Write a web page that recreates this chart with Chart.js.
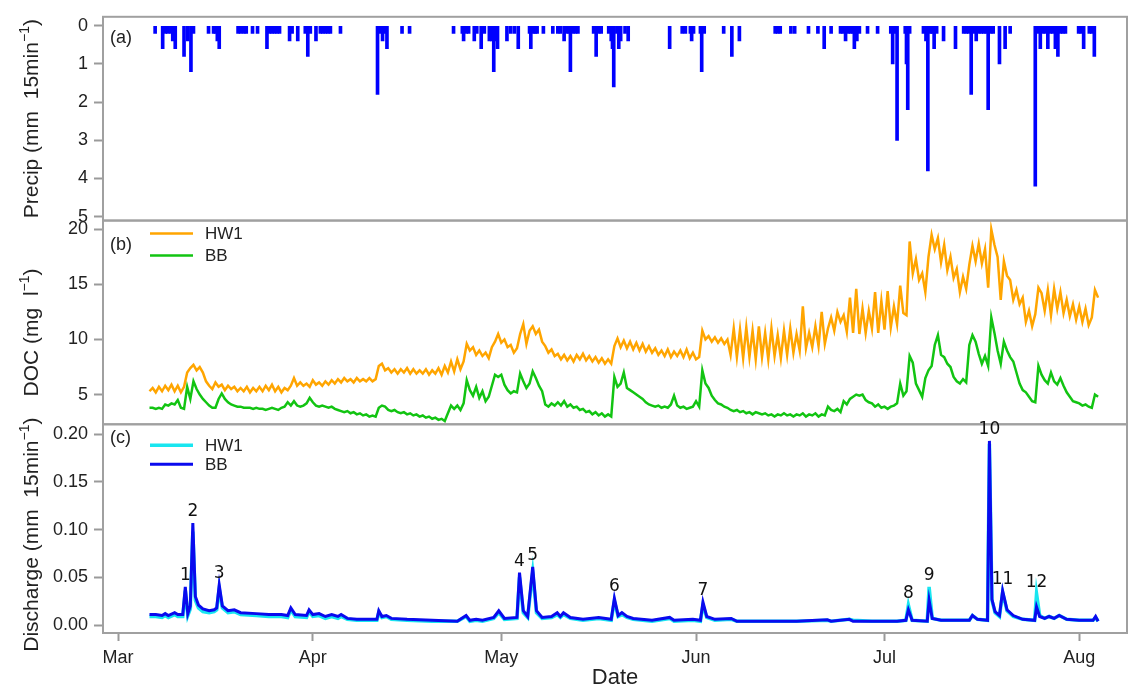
<!DOCTYPE html>
<html>
<head>
<meta charset="utf-8">
<script src="https://cdn.jsdelivr.net/npm/chart.js@4.4.1/dist/chart.umd.min.js"></script>
<style>
html, body { margin: 0; padding: 0; background: #fff; }
</style>
</head>
<body>
<canvas id="chartHydro" width="1129" height="689"></canvas>
<script>
// x is days since 1 March
var monthTicks = [0, 31, 61, 92, 122, 153];
var monthLabels = ['Mar', 'Apr', 'May', 'Jun', 'Jul', 'Aug'];
var precipTicks = [0, 1, 2, 3, 4, 5];
var docTicks = [5, 10, 15, 20];
var qTicks = [0, 0.05, 0.10, 0.15, 0.20];

// (a) precipitation, mm per 15 min
var precipDays = [
    5.9, 7.1, 7.5, 7.9, 8.4, 8.7, 9.1, 10.5, 11.1, 11.6,
    12.0, 14.4, 15.2, 15.5, 15.8, 16.1, 19.1, 19.5, 20.0, 20.4,
    21.4, 22.2, 23.7, 24.1, 24.5, 24.9, 25.3, 25.7, 27.3, 27.7,
    28.6, 29.8, 30.2, 30.6, 31.5, 32.2, 32.6, 33.0, 33.4, 33.8,
    35.4, 41.3, 41.7, 42.1, 42.5, 42.8, 45.2, 46.4, 53.4, 54.8,
    55.0, 55.4, 55.8, 56.7, 57.1, 57.8, 58.3, 59.1, 59.5, 59.8,
    60.2, 60.4, 61.9, 62.5, 63.1, 63.7, 65.5, 65.7, 66.1, 66.4,
    66.7, 67.7, 69.2, 70.0, 70.4, 71.0, 71.4, 71.8, 72.0, 72.4,
    72.8, 73.2, 75.7, 76.1, 76.5, 76.9, 78.1, 78.5, 78.7, 78.9,
    79.4, 79.7, 80.0, 80.7, 81.2, 87.8, 89.8, 90.3, 91.1, 91.3,
    91.6, 92.7, 92.9, 93.3, 96.4, 97.7, 98.9, 104.6, 105.0, 105.4,
    107.1, 107.7, 109.9, 111.4, 112.4, 113.5, 115.0, 115.4, 115.8, 116.2,
    116.6, 117.0, 117.2, 117.6, 118.0, 119.3, 120.9, 123.0, 123.3, 123.7,
    124.0, 125.3, 125.5, 125.7, 126.0, 128.2, 128.6, 128.9, 129.3, 129.6,
    129.9, 130.3, 131.4, 133.3, 134.6, 135.0, 135.4, 135.8, 136.2, 136.6,
    137.0, 137.4, 137.8, 138.2, 138.5, 138.9, 139.3, 140.3, 141.2, 142.0,
    146.0, 146.4, 146.8, 147.2, 147.6, 148.0, 148.4, 148.8, 149.2, 149.6,
    150.0, 150.4, 150.8, 152.9, 153.3, 153.7, 154.6, 155.0, 155.4
];
var precipMm = [
    0.2, 0.6, 0.2, 0.2, 0.2, 0.4, 0.6, 0.8, 0.4, 1.2,
    0.2, 0.2, 0.2, 0.2, 0.4, 0.6, 0.2, 0.2, 0.2, 0.2,
    0.2, 0.2, 0.6, 0.2, 0.2, 0.2, 0.2, 0.2, 0.4, 0.2,
    0.4, 0.2, 0.8, 0.2, 0.4, 0.2, 0.2, 0.2, 0.2, 0.2,
    0.2, 1.8, 0.2, 0.4, 0.2, 0.6, 0.2, 0.2, 0.2, 0.2,
    0.4, 0.2, 0.2, 0.4, 0.2, 0.6, 0.2, 0.4, 0.4, 1.2,
    0.4, 0.6, 0.4, 0.2, 0.2, 0.6, 0.2, 0.6, 0.2, 0.2,
    0.2, 0.2, 0.2, 0.2, 0.2, 0.4, 0.2, 0.2, 1.2, 0.2,
    0.2, 0.2, 0.2, 0.8, 0.2, 0.2, 0.2, 0.4, 0.6, 1.6,
    0.2, 0.6, 0.4, 0.2, 0.4, 0.6, 0.2, 0.2, 0.2, 0.4,
    0.2, 0.2, 1.2, 0.2, 0.2, 0.8, 0.4, 0.2, 0.2, 0.2,
    0.2, 0.2, 0.2, 0.2, 0.6, 0.2, 0.2, 0.2, 0.4, 0.2,
    0.2, 0.2, 0.6, 0.4, 0.2, 0.2, 0.2, 0.2, 1.0, 0.2,
    3.0, 0.2, 1.0, 2.2, 0.2, 0.2, 0.4, 3.8, 0.2, 0.2,
    0.6, 0.2, 0.4, 0.6, 0.2, 0.2, 0.2, 1.8, 0.2, 0.4,
    0.2, 0.2, 0.2, 0.2, 2.2, 0.2, 0.2, 1.0, 0.6, 0.2,
    4.2, 0.2, 0.6, 0.2, 0.2, 0.6, 0.2, 0.2, 0.6, 0.8,
    0.2, 0.2, 0.2, 0.2, 0.2, 0.6, 0.2, 0.2, 0.8
];

// (b) DOC, mg/l, every half day from day 5
var docStart = 5;
var docStep = 0.5;
var docHW1 = [
    5.3,5.6,5.2,5.7,5.3,5.8,5.4,5.9,5.3,5.8,5.2,5.7,
    7.0,7.4,7.7,7.2,7.5,7.0,6.2,
    5.8,5.5,6.1,5.7,5.9,5.4,5.8,5.5,5.7,5.3,5.6,5.3,5.7,5.2,5.6,5.3,5.7,5.3,5.8,5.4,5.9,5.3,5.7,5.2,5.6,5.4,5.8,
    6.5,5.8,6.1,5.8,6.0,5.7,6.3,5.9,6.1,5.8,6.2,5.9,6.3,6.0,6.4,6.1,6.5,6.2,6.4,6.1,6.5,6.2,6.4,6.2,6.5,6.2,6.4,
    7.6,7.8,7.2,7.4,7.0,7.3,6.9,7.3,7.0,7.4,6.9,7.3,6.9,7.2,6.9,7.3,6.8,7.2,6.9,7.4,6.8,7.6,
    7.0,8.0,7.1,8.2,7.3,8.0,
    9.6,9.0,9.3,8.6,9.0,8.5,8.8,8.3,
    9.3,9.8,10.5,9.7,10.0,9.3,9.5,8.8,9.2,
    10.5,11.4,9.6,10.8,11.2,10.5,10.9,9.8,9.4,8.8,9.1,8.5,8.7,
    8.2,8.6,8.1,8.5,8.0,8.6,8.2,8.7,8.1,8.5,8.0,8.4,7.9,8.3,7.8,8.2,7.8,
    9.4,10.1,9.3,9.9,9.2,9.8,9.1,9.7,9.0,9.6,8.9,9.4,8.8,
    9.2,8.6,9.0,8.5,9.1,8.4,8.9,8.5,9.0,8.4,9.1,8.3,8.8,8.2,8.4,
    10.8,10.0,10.3,9.8,10.2,9.7,10.1,9.6,10.0,
    8.6,11.0,8.4,10.9,8.3,11.1,8.4,10.8,8.2,11.2,8.4,10.6,8.2,11.0,8.5,10.4,8.3,10.8,8.6,11.0,8.8,10.5,9.0,13.0,9.2,10.6,9.3,11.2,9.4,12.5,9.6,
    11.0,12.0,10.8,12.5,11.6,12.2,10.7,13.8,10.6,14.6,10.5,12.8,10.6,12.6,11.0,14.3,10.6,13.5,10.9,14.4,11.1,13.0,11.4,14.9,12.4,12.2,
    18.9,16.0,17.3,15.4,16.0,14.3,17.5,19.5,18.2,19.2,17.0,18.6,16.3,17.5,15.6,16.4,14.3,15.7,14.6,16.8,
    18.5,17.1,18.7,16.9,18.2,14.7,20.0,18.6,17.5,13.6,17.1,15.8,15.4,13.6,14.5,13.2,13.8,11.6,12.6,11.2,12.3,
    14.7,14.2,12.6,14.5,12.2,14.6,12.8,14.3,12.4,13.6,12.1,13.2,11.8,13.0,11.6,12.8,11.3,12.0,14.5,13.8
];
var docBB = [
    3.8,3.8,3.7,3.8,3.7,4.1,4.0,4.2,4.1,4.5,3.8,3.7,
    5.7,4.6,6.2,5.5,5.0,4.6,4.3,
    4.0,3.8,3.8,4.6,5.1,4.6,4.3,4.1,4.0,3.9,3.9,3.8,3.8,3.8,3.7,3.8,3.7,3.7,3.6,3.7,3.8,3.7,3.6,3.8,3.9,4.3,4.0,
    4.4,4.0,3.9,4.0,4.2,4.7,4.3,4.0,3.9,4.0,3.9,3.8,3.9,3.7,3.6,3.5,3.4,3.5,3.3,3.4,3.2,3.3,3.1,3.2,3.0,3.1,3.0,
    3.8,4.0,3.9,3.6,3.5,3.6,3.4,3.3,3.4,3.2,3.3,3.1,3.2,3.0,3.1,2.9,3.0,2.8,2.9,2.7,2.8,2.6,
    3.3,4.0,3.7,4.0,3.6,4.2,
    6.3,5.4,4.9,5.7,4.7,5.3,4.4,4.8,
    5.8,6.8,6.6,6.8,5.9,5.4,5.1,5.3,5.2,
    6.9,6.2,5.6,6.0,7.1,6.5,5.8,5.3,4.1,3.9,4.2,4.0,4.3,
    4.0,4.4,3.9,4.1,3.8,3.9,3.6,3.7,3.4,3.5,3.2,3.4,3.1,3.3,3.0,3.2,3.0,
    6.6,5.7,6.0,7.0,5.6,5.4,5.2,5.0,4.8,4.6,4.3,4.1,4.0,
    3.9,4.0,3.8,3.9,3.8,4.1,4.9,4.0,3.8,3.9,3.7,3.8,3.9,4.4,3.9,
    7.2,6.0,5.6,4.9,4.5,4.2,4.1,3.9,3.8,
    3.6,3.5,3.6,3.4,3.5,3.3,3.4,3.2,3.4,3.3,3.2,3.3,3.1,3.2,3.0,3.2,3.1,3.3,3.1,3.2,3.0,3.2,3.1,3.3,3.0,3.2,3.1,3.3,3.0,3.2,3.1,
    3.9,3.6,3.5,3.7,3.4,4.4,4.1,4.6,4.8,5.0,4.9,5.0,4.5,4.3,4.2,3.9,4.1,3.8,3.9,3.7,3.9,4.0,4.2,6.0,4.9,5.3,
    8.5,7.9,6.0,5.4,4.8,6.5,7.2,7.6,9.5,10.4,8.6,8.4,7.8,7.5,6.6,6.2,6.0,6.4,6.1,9.5,
    10.4,9.8,8.7,7.8,8.5,7.6,12.0,10.6,9.0,7.8,9.8,9.0,8.4,8.0,7.0,6.0,5.4,5.2,4.8,4.4,4.3,
    7.6,6.8,6.3,6.0,7.0,6.2,5.9,6.5,5.8,5.2,4.8,4.4,4.3,4.2,4.0,4.1,3.9,3.8,5.0,4.8
];

// (c) discharge, mm per 15 min
var qDays = [
    5.0, 6.0, 7.0, 7.5, 8.0, 9.0, 9.5, 10.3, 10.7, 11.1,
    11.5, 11.9, 12.3, 12.8, 13.5, 14.5, 15.3, 15.7, 16.1, 16.6,
    17.5, 18.5, 19.5, 22.0, 24.0, 26.0, 27.0, 27.5, 28.2, 30.0,
    30.4, 31.0, 32.0, 33.0, 34.0, 35.0, 35.5, 36.5, 38.0, 40.0,
    41.2, 41.5, 42.0, 42.7, 43.5, 46.0, 50.0, 54.0, 55.4, 56.0,
    57.0, 58.0, 59.8, 60.6, 61.5, 63.5, 63.9, 64.5, 65.2, 66.0,
    66.6, 67.5, 69.0, 69.9, 70.4, 70.9, 72.0, 74.0, 76.5, 78.5,
    79.0, 79.6, 80.2, 81.0, 82.0, 85.0, 87.8, 88.5, 91.5, 92.7,
    93.1, 93.7, 95.0, 97.6, 98.5, 104.0, 108.0, 112.9, 113.5, 116.4,
    117.0, 120.0, 124.0, 125.4, 125.8, 126.4, 128.8, 129.1, 129.6, 131.0,
    135.5, 136.0, 136.8, 138.4, 138.7, 139.1, 139.6, 140.3, 140.8, 141.5,
    142.5, 144.0, 145.9, 146.2, 146.7, 147.5, 148.2, 149.0, 149.8, 151.0,
    153.0, 155.2, 155.6, 156.0
];
var qBB = [
    0.011, 0.011, 0.010, 0.012, 0.010, 0.013, 0.011, 0.011, 0.040, 0.012,
    0.020, 0.107, 0.030, 0.021, 0.017, 0.015, 0.016, 0.018, 0.042, 0.020,
    0.015, 0.016, 0.013, 0.012, 0.011, 0.011, 0.010, 0.018, 0.011, 0.010,
    0.016, 0.011, 0.012, 0.009, 0.011, 0.009, 0.011, 0.007, 0.006, 0.006,
    0.006, 0.015, 0.009, 0.010, 0.007, 0.006, 0.005, 0.004, 0.010, 0.005,
    0.006, 0.005, 0.008, 0.015, 0.007, 0.008, 0.055, 0.015, 0.009, 0.061,
    0.015, 0.008, 0.009, 0.013, 0.009, 0.013, 0.008, 0.006, 0.008, 0.006,
    0.028, 0.010, 0.013, 0.009, 0.007, 0.005, 0.008, 0.005, 0.006, 0.005,
    0.024, 0.009, 0.006, 0.007, 0.004, 0.004, 0.004, 0.0055, 0.004, 0.006,
    0.004, 0.004, 0.004, 0.005, 0.016, 0.005, 0.004, 0.026, 0.007, 0.005,
    0.005, 0.010, 0.006, 0.005, 0.193, 0.027, 0.014, 0.010, 0.036, 0.016,
    0.010, 0.006, 0.005, 0.019, 0.009, 0.007, 0.009, 0.007, 0.010, 0.006,
    0.005, 0.005, 0.009, 0.004
];
var qHW1 = [
    0.009, 0.009, 0.008, 0.010, 0.008, 0.011, 0.009, 0.009, 0.036, 0.010,
    0.017, 0.098, 0.026, 0.018, 0.014, 0.013, 0.014, 0.016, 0.038, 0.018,
    0.013, 0.014, 0.011, 0.010, 0.009, 0.009, 0.008, 0.016, 0.009, 0.008,
    0.014, 0.009, 0.010, 0.007, 0.009, 0.007, 0.009, 0.006, 0.005, 0.005,
    0.005, 0.013, 0.008, 0.009, 0.006, 0.005, 0.004, 0.004, 0.009, 0.004,
    0.005, 0.004, 0.007, 0.013, 0.006, 0.007, 0.050, 0.013, 0.008, 0.055,
    0.013, 0.007, 0.008, 0.011, 0.008, 0.011, 0.007, 0.005, 0.007, 0.005,
    0.025, 0.009, 0.011, 0.008, 0.006, 0.004, 0.007, 0.004, 0.005, 0.004,
    0.021, 0.008, 0.005, 0.006, 0.004, 0.004, 0.004, 0.005, 0.004, 0.006,
    0.005, 0.004, 0.004, 0.005, 0.021, 0.005, 0.004, 0.040, 0.007, 0.005,
    0.005, 0.010, 0.006, 0.005, 0.190, 0.026, 0.013, 0.009, 0.034, 0.015,
    0.009, 0.006, 0.005, 0.033, 0.010, 0.007, 0.009, 0.007, 0.010, 0.006,
    0.005, 0.005, 0.008, 0.004
];

// numbered storm events in panel (c)
var eventLabels = ['1', '2', '3', '4', '5', '6', '7', '8', '9', '10', '11', '12'];
var eventDays = [10.7, 11.9, 16.1, 63.9, 66.0, 79.0, 93.1, 125.8, 129.1, 138.7, 140.8, 146.2];

// ========================================

var FONT = "'Liberation Sans', Arial, sans-serif";
Chart.defaults.font.family = FONT;
Chart.defaults.color = '#222';

function toPoints(xs, ys) {
    return ys.map(function(y, i) { return {x: xs[i], y: y}; });
}
var docDays = docHW1.map(function(v, i) { return docStart + i * docStep; });

function fixedTicks(list) {
    return function(scale) {
        scale.ticks = list.map(function(v) { return {value: v}; });
    };
}
function leftWidth(scale) { scale.width = 103; }

function yAxis(weight, min, max, list, extra) {
    var o = {
        type: 'linear',
        position: 'left',
        stack: 'panels',
        stackWeight: weight,
        min: min,
        max: max,
        afterBuildTicks: fixedTicks(list),
        afterFit: leftWidth,
        border: { display: false },
        grid: { drawOnChartArea: false, offset: false, tickLength: 9, tickWidth: 2, tickColor: '#9a9a9a' },
        ticks: { font: { size: 18 }, color: '#222', padding: 6, autoSkip: false }
    };
    for (var k in extra) { o[k] = extra[k]; }
    return o;
}

var panelLetters = ['(a)', '(b)', '(c)'];
var letterOffsets = [21, 24, 14];

function drawVTitle(ctx, cx, cy, main, sup, tail) {
    ctx.save();
    ctx.translate(cx, cy);
    ctx.rotate(-Math.PI / 2);
    ctx.font = '21px ' + FONT;
    var w1 = ctx.measureText(main).width;
    var w3 = ctx.measureText(tail).width;
    ctx.font = '14px ' + FONT;
    var w2 = ctx.measureText(sup).width;
    var x0 = -(w1 + w2 + w3) / 2;
    ctx.fillStyle = '#222';
    ctx.textAlign = 'left';
    ctx.textBaseline = 'alphabetic';
    ctx.font = '21px ' + FONT;
    ctx.fillText(main, x0, 7);
    ctx.font = '14px ' + FONT;
    ctx.fillText(sup, x0 + w1, -2);
    ctx.font = '21px ' + FONT;
    ctx.fillText(tail, x0 + w1 + w2, 7);
    ctx.restore();
}

var panelDecor = {
    id: 'panelDecor',
    afterDatasetsDraw: function(chart) {
        var ctx = chart.ctx, area = chart.chartArea, sc = chart.scales;
        var panels = [sc.yP, sc.yDOC, sc.yQ];
        var ds = chart.data.datasets;
        ctx.save();

        // panel boxes
        ctx.strokeStyle = '#a0a0a0';
        ctx.lineWidth = 2;
        panels.forEach(function(p) {
            ctx.strokeRect(area.left, p.top, area.right - area.left, p.bottom - p.top);
        });

        // (a) (b) (c)
        ctx.fillStyle = '#222';
        ctx.font = '18px ' + FONT;
        ctx.textAlign = 'left';
        ctx.textBaseline = 'middle';
        panelLetters.forEach(function(t, i) {
            ctx.fillText(t, area.left + 7, panels[i].top + letterOffsets[i]);
        });

        // legends inside (b) and (c)
        var legendRows = [
            { panel: 1, ds: 1, dy: 13 }, { panel: 1, ds: 2, dy: 35 },
            { panel: 2, ds: 4, dy: 21 }, { panel: 2, ds: 3, dy: 40 }
        ];
        ctx.font = '17px ' + FONT;
        legendRows.forEach(function(r) {
            var y = panels[r.panel].top + r.dy;
            ctx.strokeStyle = ds[r.ds].borderColor;
            ctx.lineWidth = ds[r.ds].borderWidth;
            ctx.beginPath();
            ctx.moveTo(area.left + 47, y);
            ctx.lineTo(area.left + 90, y);
            ctx.stroke();
            ctx.fillStyle = '#222';
            ctx.fillText(ds[r.ds].label, area.left + 102, y + 1);
        });

        // event numbers above the discharge peaks
        ctx.font = '17px "DejaVu Sans", sans-serif';
        ctx.textAlign = 'center';
        ctx.textBaseline = 'alphabetic';
        ctx.fillStyle = '#111';
        eventDays.forEach(function(d, i) {
            var k = qDays.indexOf(d);
            var peak = Math.max(qBB[k], qHW1[k]);
            ctx.fillText(eventLabels[i], sc.x.getPixelForValue(d), sc.yQ.getPixelForValue(peak) - 7);
        });
        ctx.restore();

        // y axis titles
        drawVTitle(ctx, 31, (sc.yP.top + sc.yP.bottom) / 2, 'Precip (mm  15min', '\u22121', ')');
        drawVTitle(ctx, 31, (sc.yDOC.top + sc.yDOC.bottom) / 2 + 10, 'DOC (mg  l', '\u22121', ')');
        drawVTitle(ctx, 31, (sc.yQ.top + sc.yQ.bottom) / 2 + 6, 'Discharge (mm  15min', '\u22121', ')');
    }
};

var ctxHydro = document.getElementById('chartHydro');
var chartHydro = new Chart(ctxHydro, {
    type: 'line',
    data: {
        datasets: [
            {
                type: 'bar',
                label: 'Precip',
                data: toPoints(precipDays, precipMm),
                yAxisID: 'yP',
                backgroundColor: '#0000ff',
                barThickness: 3
            },
            {
                label: 'HW1',
                data: toPoints(docDays, docHW1),
                yAxisID: 'yDOC',
                borderColor: '#ffa500',
                borderWidth: 2.5,
                pointRadius: 0,
                tension: 0
            },
            {
                label: 'BB',
                data: toPoints(docDays, docBB),
                yAxisID: 'yDOC',
                borderColor: '#12c412',
                borderWidth: 2.5,
                pointRadius: 0,
                tension: 0
            },
            {
                // drawn on top of the cyan line (lower index is painted last)
                label: 'BB',
                data: toPoints(qDays, qBB),
                yAxisID: 'yQ',
                borderColor: '#0a0aee',
                borderWidth: 3,
                pointRadius: 0,
                tension: 0
            },
            {
                label: 'HW1',
                data: toPoints(qDays, qHW1),
                yAxisID: 'yQ',
                borderColor: '#19e6f0',
                borderWidth: 3.5,
                pointRadius: 0,
                tension: 0
            }
        ]
    },
    options: {
        responsive: false,
        animation: false,
        layout: { padding: { top: 13, right: 2, left: 0, bottom: 0 } },
        plugins: {
            legend: { display: false },
            tooltip: { enabled: false }
        },
        scales: {
            x: {
                type: 'linear',
                position: 'bottom',
                min: -2.4,
                max: 160.6,
                offset: false,
                afterBuildTicks: fixedTicks(monthTicks),
                afterFit: function(scale) { scale.height = 56; },
                border: { display: false },
                grid: { drawOnChartArea: false, offset: false, tickLength: 8, tickWidth: 2, tickColor: '#9a9a9a' },
                ticks: {
                    font: { size: 18 },
                    color: '#222',
                    padding: 6,
                    maxRotation: 0,
                    autoSkip: false,
                    callback: function(v) { return monthLabels[monthTicks.indexOf(v)]; }
                },
                title: {
                    display: true,
                    text: 'Date',
                    font: { size: 22, lineHeight: 1 },
                    color: '#222',
                    padding: { top: 0, bottom: 0 }
                }
            },
            yQ: yAxis(210, -0.0083, 0.2104, qTicks, {
                ticks: { font: { size: 18 }, color: '#222', padding: 6, autoSkip: false,
                         callback: function(v) { return v.toFixed(2); } }
            }),
            yDOC: yAxis(205, 2.3, 20.8, docTicks, {}),
            yP: yAxis(205, -0.234, 5.10, precipTicks, { reverse: true })
        }
    },
    plugins: [panelDecor]
});
</script>
</body>
</html>
